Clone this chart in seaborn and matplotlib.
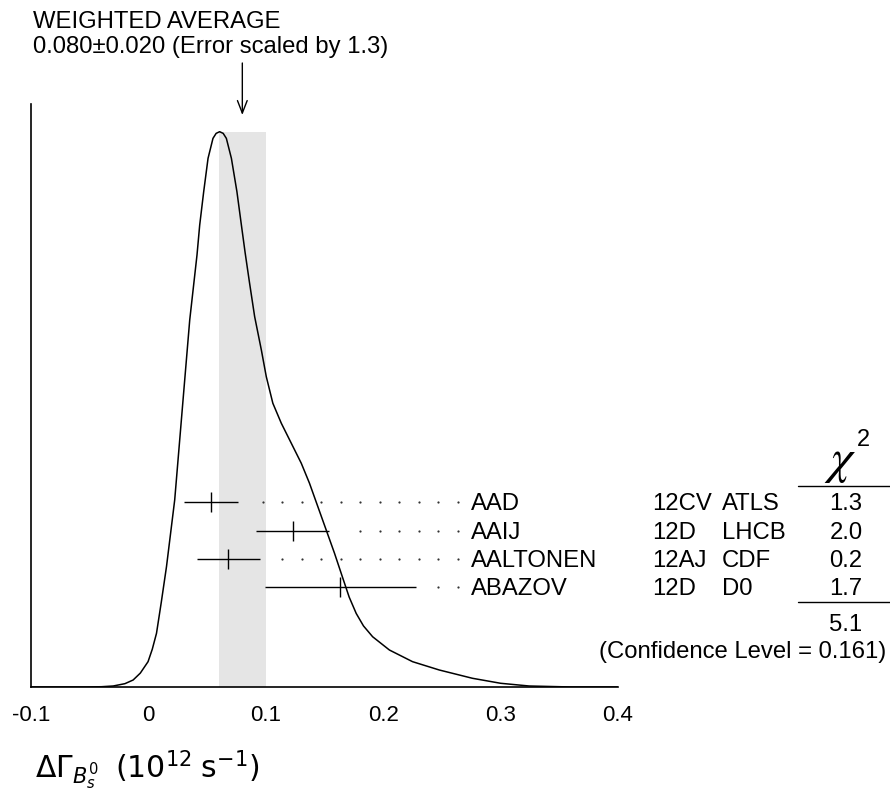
import matplotlib
matplotlib.use("Agg")
import matplotlib.pyplot as plt
import seaborn as sns

# measurements (PDG style ideogram)
names = ['AAD', 'AAIJ', 'AALTONEN', 'ABAZOV']
refs = ['12CV', '12D', '12AJ', '12D']
experiments = ['ATLS', 'LHCB', 'CDF', 'D0']
values = [0.053, 0.123, 0.068, 0.163]
err_lo = [0.023, 0.031, 0.027, 0.064]
err_hi = [0.023, 0.031, 0.027, 0.065]
chi2 = [1.3, 2.0, 0.2, 1.7]
chi2_total = 5.1
conf_level = 0.161

avg = 0.080
avg_err = 0.020
err_scale = 1.3

# ideogram curve (peak normalised to 1)
ideo_x = [-0.100, -0.053, -0.040, -0.030, -0.020, -0.013, -0.0069, -0.0003,
          0.0033, 0.0069, 0.011, 0.0154, 0.0224, 0.0295, 0.0352, 0.0414,
          0.0437, 0.0471, 0.0508, 0.0550, 0.0577, 0.0607, 0.0637, 0.0664,
          0.0707, 0.0754, 0.0792, 0.0824, 0.0862, 0.0905, 0.0962, 0.1004,
          0.1060, 0.1132, 0.1217, 0.1302, 0.1372, 0.1443, 0.1514, 0.1585,
          0.1656, 0.1710, 0.1770, 0.1832, 0.1910, 0.2053, 0.2250, 0.2478,
          0.2760, 0.3000, 0.3243, 0.3610, 0.4000]
ideo_y = [0.0, 0.0, 0.0005, 0.0018, 0.006, 0.0126, 0.025, 0.0456,
          0.068, 0.0967, 0.153, 0.2166, 0.3368, 0.5168, 0.6609, 0.778,
          0.832, 0.892, 0.952, 0.988, 0.997, 1.000, 0.997, 0.988,
          0.952, 0.892, 0.832, 0.782, 0.727, 0.667, 0.607, 0.559,
          0.511, 0.475, 0.439, 0.403, 0.367, 0.325, 0.283, 0.241,
          0.196, 0.162, 0.1325, 0.110, 0.0905, 0.0666, 0.0456, 0.0306,
          0.0157, 0.0067, 0.0018, 0.0, 0.0]

xticks = [-0.1, 0.0, 0.1, 0.2, 0.3, 0.4]
xtick_labels = ['-0.1', '0', '0.1', '0.2', '0.3', '0.4']

sns.set_style('white')
plt.rcParams['font.family'] = ['Liberation Sans', 'DejaVu Sans']
plt.rcParams['axes.unicode_minus'] = False
plt.rcParams['mathtext.fontset'] = 'dejavusans'
plt.rcParams['text.color'] = 'black'

W, H = 890, 806


def fx(px):
    return px / W


def fy(py):
    return 1 - py / H


fig = plt.figure(figsize=(W / 100, H / 100), dpi=100)
y_top = (687 - 104) / (687 - 131.7)
ax = fig.add_axes([fx(31), fy(687), (618 - 31) / W, (687 - 104) / H])
ax.set_xlim(-0.1, 0.4)
ax.set_ylim(0, y_top)

# scaled error band
ax.axvspan(avg - avg_err, avg + avg_err, ymin=0, ymax=1.0 / y_top,
           color='#e5e5e5', lw=0, zorder=0)

sns.lineplot(x=ideo_x, y=ideo_y, ax=ax, color='black', lw=1.1,
             estimator=None, sort=False, zorder=3)

# measurements with error bars and dotted leaders
row_y0 = 0.3326
row_dy = 0.0511
dot_last = 0.2634
dot_step = 0.01658
for i in range(len(values)):
    yy = row_y0 - i * row_dy
    lo = values[i] - err_lo[i]
    hi = values[i] + err_hi[i]
    ax.hlines(yy, lo, hi, color='black', lw=1.0, zorder=4)
    ax.vlines(values[i], yy - 0.018, yy + 0.018, color='black', lw=1.0, zorder=4)
    dots = [dot_last - k * dot_step for k in range(30)
            if dot_last - k * dot_step > hi + 0.015]
    ax.plot(dots, [yy] * len(dots), ls='none', marker='o', ms=1.6,
            color='#333333', mec='none', zorder=4)

# weighted-average arrow
ax.annotate('', xy=(avg, (687 - 115) / 555.3), xytext=(avg, (687 - 63) / 555.3),
            xycoords='data', annotation_clip=False,
            arrowprops=dict(arrowstyle='->,head_length=0.9,head_width=0.35',
                            color='black', lw=1.0, shrinkA=0, shrinkB=0))

# axes styling
for side in ['top', 'right']:
    ax.spines[side].set_visible(False)
for side in ['left', 'bottom']:
    ax.spines[side].set_linewidth(1.2)
    ax.spines[side].set_color('black')
ax.set_yticks([])
ax.set_xticks(xticks)
ax.set_xticklabels(xtick_labels)
ax.tick_params(axis='x', direction='in', length=12, width=1.1, pad=13,
               labelsize=16, colors='black')
ax.set_xlabel('')

# text
fs = 17.2
fig.text(fx(33), fy(28), 'WEIGHTED AVERAGE', fontsize=fs, va='baseline')
fig.text(fx(33), fy(53),
         f'{avg:.3f}\u00b1{avg_err:.3f} (Error scaled by {err_scale})',
         fontsize=fs, va='baseline')

for i in range(len(names)):
    base = 502.3 + i * 28.33 + 8
    fig.text(fx(470.7), fy(base), names[i], fontsize=fs, va='baseline')
    fig.text(fx(651.7), fy(base), refs[i], fontsize=fs, va='baseline')
    fig.text(fx(721.7), fy(base), experiments[i], fontsize=fs, va='baseline')
    fig.text(fx(846), fy(base), f'{chi2[i]:.1f}', fontsize=fs, va='baseline',
             ha='center')

fig.text(fx(840), fy(473), r'$\chi$', fontsize=36, ha='center', va='baseline',
         math_fontfamily='stix')
fig.text(fx(857), fy(446), '2', fontsize=17, ha='left', va='baseline')
fig.add_artist(plt.Line2D([fx(798), fx(890)], [fy(486), fy(486)],
                          color='black', lw=1.0))
fig.add_artist(plt.Line2D([fx(798), fx(890)], [fy(601.7), fy(601.7)],
                          color='black', lw=1.0))
fig.text(fx(846), fy(630.7), f'{chi2_total:.1f}', fontsize=fs, va='baseline',
         ha='center')
fig.text(fx(886), fy(658), f'(Confidence Level = {conf_level:.3f})', fontsize=fs,
         va='baseline', ha='right')

fig.text(fx(35), fy(778),
         r'$\Delta\Gamma_{B_s^0}\;\;(10^{12}\;\mathrm{s}^{-1})$',
         fontsize=21.5, va='baseline')

fig.savefig('out.png', dpi=100)
